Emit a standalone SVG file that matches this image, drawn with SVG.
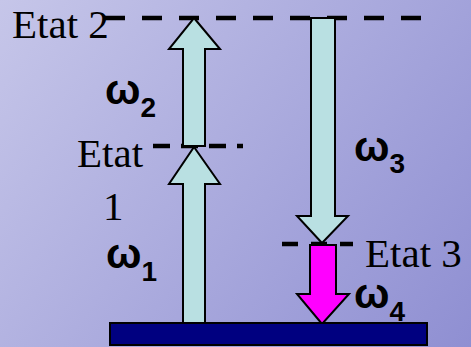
<svg xmlns="http://www.w3.org/2000/svg" width="471" height="347" viewBox="0 0 471 347">
  <defs>
    <linearGradient id="bg" x1="0" y1="0" x2="471" y2="347" gradientUnits="userSpaceOnUse">
      <stop offset="0" stop-color="#c6c6e9"/>
      <stop offset="1" stop-color="#8f8fd2"/>
    </linearGradient>
  </defs>
  <style>
    .lvl { stroke: #000; stroke-width: 4.5; fill: none; }
    .arrow { stroke: #000; stroke-width: 2; stroke-linejoin: miter; }
    .cyan { fill: #b9e0e2; }
    .mag { fill: #ff00ff; }
    .etat { font-family: "Liberation Serif", "Times New Roman", serif; font-size: 41px; fill: #000; }
    .om { font-family: "Liberation Sans", Arial, sans-serif; font-weight: bold; font-size: 42px; fill: #000; }
    .sub { font-size: 28px; }
  </style>
  <rect x="0" y="0" width="471" height="347" fill="url(#bg)"/>

  <g id="connectors">
    <line class="lvl" x1="105" y1="18" x2="422" y2="18" stroke-dasharray="20 17"/>
    <line class="lvl" x1="153" y1="146" x2="243" y2="146" stroke-dasharray="17 11"/>
    <line class="lvl" x1="282" y1="244" x2="353" y2="244" stroke-dasharray="16 13"/>
  </g>

  <g id="etat2">
    <text class="etat" x="12" y="38">Etat 2</text>
  </g>
  <g id="etat1">
    <text class="etat" x="77" y="167">Etat</text>
    <text class="etat" x="103" y="220">1</text>
  </g>
  <g id="etat3">
    <text class="etat" x="365" y="267">Etat 3</text>
  </g>

  <g id="arrow-w2">
    <polygon class="arrow cyan" points="194,18 220,49 205,49 205,146 183,146 183,49 169,49"/>
    <text class="om" x="105" y="104">ω<tspan class="sub" dx="0" dy="13">2</tspan></text>
  </g>
  <g id="arrow-w1">
    <polygon class="arrow cyan" points="194,147 220,184 205,184 205,323 183,323 183,184 169,184"/>
    <text class="om" x="106" y="268">ω<tspan class="sub" dx="0" dy="13">1</tspan></text>
  </g>
  <g id="arrow-w3">
    <polygon class="arrow cyan" points="311,18 335,18 335,216 348,216 322,243 297,216 311,216"/>
    <text class="om" x="354" y="161">ω<tspan class="sub" dx="0" dy="12">3</tspan></text>
  </g>
  <g id="arrow-w4">
    <polygon class="arrow mag" points="310,245 336,245 336,294 349,294 322,324 297,294 310,294"/>
    <text class="om" x="354" y="308">ω<tspan class="sub" dx="0" dy="13">4</tspan></text>
  </g>

  <g id="ground">
    <rect x="110" y="323" width="317" height="22" fill="#000080" stroke="#000" stroke-width="2"/>
  </g>
</svg>
